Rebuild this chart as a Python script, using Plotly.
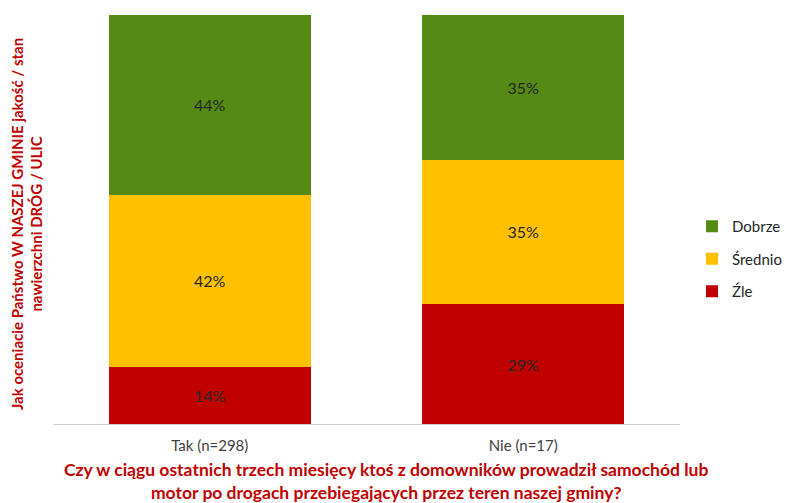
import plotly.graph_objects as go

categories = ["Tak (n=298)", "Nie (n=17)"]
series_names = ["Źle", "Średnio", "Dobrze"]
zle = [14, 29]
srednio = [42, 35]
dobrze = [44, 35]
colors = ["#C00000", "#FFC000", "#558B14"]
legend_ranks = [3, 2, 1]

y_title = "<b>Jak oceniacie Państwo W NASZEJ GMINIE jakość / stan<br>nawierzchni DRÓG / ULIC</b>"
x_title = "<b>Czy w ciągu ostatnich trzech miesięcy ktoś z domowników prowadził samochód lub<br>motor po drogach przebiegających przez teren naszej gminy?</b>"

FONT = "Lato, 'Open Sans', sans-serif"

fig = go.Figure()
for name, vals, col, rk in zip(series_names, [zle, srednio, dobrze], colors, legend_ranks):
    fig.add_trace(go.Bar(
        x=categories, y=vals, name=name, legendgroup=name, legendrank=rk,
        marker=dict(color=col, line=dict(width=0)),
        text=[f"{v}%" for v in vals], texttemplate="%{text}",
        textposition="inside", insidetextanchor="middle",
        textfont=dict(family=FONT, size=16, color="#262626"),
        hoverinfo="skip",
    ))

fig.update_layout(
    width=790, height=503,
    barmode="stack", barnorm="percent", bargap=0.357,
    plot_bgcolor="white", paper_bgcolor="white",
    margin=dict(l=53, r=99, t=15, b=79),
    font=dict(family=FONT, size=15, color="#404040"),
    showlegend=True,
    legend=dict(
        xref="container", yref="paper",
        x=692 / 790, y=(424 - 259) / 409, xanchor="left", yanchor="middle",
        traceorder="grouped", tracegroupgap=10,
        font=dict(family=FONT, size=15, color="#262626"),
        itemwidth=30,
    ),
    xaxis=dict(
        showline=True, linecolor="#D0D0D0", linewidth=1,
        ticks="", tickfont=dict(family=FONT, size=15, color="#404040"),
        ticklabelstandoff=8,
        showgrid=False,
    ),
    yaxis=dict(
        range=[0, 100], showticklabels=False, showgrid=False,
        zeroline=False, showline=False, ticks="",
    ),
)

fig.add_annotation(
    text=y_title, xref="paper", yref="paper",
    x=(26 - 53) / 638, y=0.49, xanchor="center", yanchor="middle",
    textangle=-90, showarrow=False,
    font=dict(family=FONT, size=15, color="#C00000"),
)
fig.add_annotation(
    text=x_title, xref="paper", yref="paper",
    x=(392 - 53) / 638, y=(424 - 481) / 409, xanchor="center", yanchor="middle",
    showarrow=False,
    font=dict(family=FONT, size=17.5, color="#C00000"),
)

fig.write_html("out.html", config={"displayModeBar": False},
               post_script="document.body.style.margin='0';")
